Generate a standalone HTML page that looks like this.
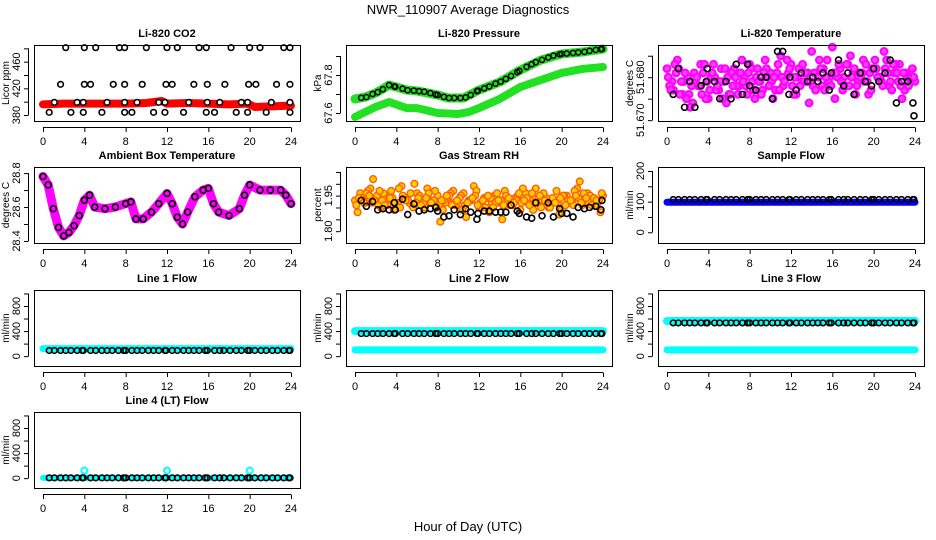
<!DOCTYPE html>
<html><head><meta charset="utf-8"><style>
html,body{margin:0;padding:0;background:#fff;}
svg{display:block;font-family:"Liberation Sans",Arial,sans-serif;}
</style></head><body>
<svg id="c" width="936" height="540" viewBox="0 0 936 540" xmlns="http://www.w3.org/2000/svg">
<text x="468" y="14" text-anchor="middle" font-size="13">NWR_110907  Average Diagnostics</text>
<text x="468" y="531" text-anchor="middle" font-size="13">Hour of Day (UTC)</text>
</svg>
<script>
// ---------- data ----------
const xTicks=[0,4,8,12,16,20,24];
const co2RedHours=[0,2,4,6,8,10,11.5,12,14,16,18,19.8,20.5,22,24];
const co2RedVals=[396,397,397,397,397,398,401,397,398,397,396,397,392,393,394];
const co2BlackHours=[2.2,4,5.1,7.4,7.9,10,12,13,15.1,15.8,18.2,20,21,23.3,23.9,1.7,4,4.6,6.8,7.9,9.6,11.9,12.5,14.6,15.9,17.6,19.9,20.6,22.6,23.9,1.1,3.3,3.9,6.2,7.9,9.1,11.2,11.8,14.1,15.9,17.1,19.2,19.8,22.1,23.9,0.6,2.7,3.9,5.7,7.9,8.6,10.7,11.8,13.6,15.8,16.6,18.7,19.8,21.6,23.9];
const co2BlackVals=[481,481,481,481,481,481,481,481,481,481,481,481,481,481,481,426,426,426,426,426,426,426,426,426,426,426,426,426,426,426,399,399,399,399,399,399,399,399,399,399,399,399,399,399,399,384,384,384,384,384,384,384,384,384,384,384,384,384,384,384];
const presHours=[0,1,2,3.3,4,5,6,8,9,10.5,12,14,16,18,20,22,24];
const presUpper=[67.674,67.684,67.705,67.747,67.737,67.721,67.716,67.695,67.679,67.679,67.721,67.763,67.826,67.879,67.911,67.921,67.937];
const presLowerHours=[0,2,3.3,5,6,8,10,11,12,14,16,18,20,22,24];
const presLower=[67.579,67.632,67.658,67.626,67.626,67.6,67.595,67.605,67.626,67.674,67.737,67.774,67.811,67.832,67.842];
const blackHours=[0.6,1.1,1.7,2.2,2.7,3.3,3.8,3.9,4.6,5.1,5.7,6.2,6.7,7.3,7.8,8,8.6,9.1,9.6,10.2,10.7,11.2,11.8,11.9,12.5,13,13.6,14.1,14.6,15.1,15.7,15.9,16.6,17.1,17.5,18.1,18.7,19.2,19.8,20,20.5,21.1,21.6,22.2,22.7,23.3,23.8,23.9];
const presBlack=[67.68,67.684,67.70,67.71,67.725,67.747,67.74,67.738,67.728,67.72,67.718,67.715,67.712,67.705,67.697,67.695,67.685,67.679,67.679,67.679,67.682,67.695,67.715,67.718,67.73,67.74,67.755,67.765,67.78,67.795,67.815,67.822,67.843,67.857,67.868,67.88,67.892,67.902,67.909,67.911,67.913,67.916,67.919,67.922,67.927,67.932,67.936,67.937];
const tempA=[51.682,51.679,51.684,51.676,51.680,51.674,51.678,51.681,51.675,51.683,51.677,51.679,51.676,51.682,51.678,51.680,51.683,51.675,51.679,51.684,51.681,51.677,51.685,51.680,51.683,51.676,51.682,51.679,51.686,51.681,51.678,51.684,51.687,51.680,51.677,51.683,51.681,51.679,51.684,51.676,51.682,51.680,51.686,51.678,51.681,51.683,51.677,51.680,51.679];
const tempB=[51.678,51.683,51.676,51.681,51.673,51.679,51.683,51.675,51.680,51.677,51.682,51.674,51.681,51.678,51.684,51.676,51.679,51.682,51.677,51.680,51.675,51.683,51.678,51.681,51.676,51.682,51.679,51.674,51.681,51.684,51.677,51.680,51.675,51.682,51.678,51.685,51.676,51.680,51.683,51.677,51.682,51.679,51.684,51.677,51.681,51.675,51.680,51.682];
const tempC=[51.680,51.677,51.682,51.679,51.676,51.681,51.678,51.683,51.677,51.680,51.679,51.682,51.676,51.680,51.681,51.678,51.682,51.680,51.676,51.682,51.679,51.681,51.680,51.684,51.678,51.680,51.683,51.681,51.678,51.680,51.682,51.679,51.681,51.683,51.680,51.678,51.682,51.681,51.679,51.681,51.684,51.680,51.682,51.679,51.683,51.678,51.681,51.680];
const tempD=[51.677,51.681,51.679,51.675,51.678,51.680,51.676,51.679,51.681,51.678,51.675,51.680,51.678,51.676,51.679,51.681,51.677,51.679,51.681,51.678,51.680,51.677,51.679,51.682,51.680,51.678,51.681,51.679,51.677,51.682,51.680,51.678,51.681,51.679,51.683,51.680,51.678,51.681,51.679,51.682,51.680,51.678,51.681,51.683,51.679,51.681,51.678,51.680];
const tempBlack=[51.676,51.682,51.673,51.679,51.673,51.678,51.679,51.682,51.679,51.675,51.679,51.675,51.683,51.676,51.683,51.678,51.677,51.680,51.680,51.675,51.686,51.686,51.676,51.680,51.677,51.681,51.679,51.680,51.679,51.681,51.677,51.681,51.684,51.678,51.681,51.676,51.681,51.679,51.678,51.682,51.679,51.681,51.684,51.674,51.679,51.679,51.674,51.671];
const ambHours=[0,0.5,1,1.5,2,2.5,3,3.5,4,4.5,5,6,7,8,8.5,9,9.7,10.5,11.2,12,12.5,13,13.5,14,14.7,15.5,16,16.5,17,18,19,19.5,20,21,22,23,23.5,24];
const ambVals=[28.78,28.73,28.59,28.48,28.43,28.45,28.49,28.55,28.64,28.67,28.60,28.59,28.60,28.62,28.63,28.53,28.53,28.57,28.62,28.68,28.62,28.54,28.50,28.57,28.66,28.70,28.71,28.62,28.57,28.55,28.59,28.67,28.73,28.70,28.70,28.70,28.67,28.62];
const rhA=[1.93,1.96,1.92,1.98,1.94,1.90,1.95,1.97,1.92,1.99,1.94,1.91,1.96,1.93,1.98,1.92,1.95,1.89,1.94,1.97,1.91,1.96,1.93,1.99,1.90,1.94,1.88,1.95,1.92,1.97,1.91,1.94,1.89,1.96,1.93,1.98,1.90,1.94,1.92,1.97,1.89,1.95,1.93,1.98,1.91,1.96,1.94,1.92,1.95];
const rhB=[1.88,1.94,1.97,2.02,1.91,1.96,1.93,1.89,1.98,1.94,1.92,2.00,1.95,1.90,1.93,1.97,1.84,1.92,1.96,1.91,1.95,1.86,1.93,1.97,1.90,1.94,1.92,1.96,1.85,1.93,1.91,1.95,1.98,1.92,1.89,1.94,1.96,1.90,1.93,1.87,1.95,1.92,1.97,2.01,1.93,1.95,1.91,1.88];
const rhC=[1.91,1.94,1.96,1.92,1.95,1.93,1.91,1.94,1.92,1.95,1.93,1.90,1.94,1.92,1.96,1.93,1.91,1.93,1.95,1.92,1.94,1.91,1.93,1.95,1.92,1.90,1.94,1.92,1.93,1.95,1.91,1.93,1.92,1.94,1.96,1.92,1.93,1.91,1.94,1.92,1.95,1.93,1.91,1.94,1.96,1.92,1.94,1.93];
const rhD=[1.94,1.92,1.95,1.93,1.97,1.91,1.94,1.92,1.90,1.93,1.96,1.92,1.91,1.94,1.92,1.90,1.93,1.95,1.91,1.93,1.89,1.92,1.94,1.91,1.93,1.95,1.90,1.93,1.91,1.94,1.92,1.96,1.93,1.91,1.92,1.95,1.93,1.90,1.92,1.94,1.91,1.93,1.95,1.92,1.94,1.91,1.93,1.96];
const rhBlack=[1.93,1.905,1.925,1.89,1.895,1.89,1.92,1.89,1.935,1.87,1.915,1.885,1.89,1.895,1.90,1.885,1.86,1.865,1.89,1.87,1.895,1.88,1.85,1.875,1.885,1.885,1.88,1.88,1.88,1.91,1.885,1.875,1.86,1.855,1.92,1.865,1.92,1.86,1.895,1.875,1.875,1.86,1.90,1.895,1.90,1.905,1.89,1.93];
const lineHours=[0,24];
const sampleBlue=[98,98];
const sampleBlack=107;
const line1Cyan=[120,120];
const line1Black=90;
const line2CyanHi=[400,400];
const line2CyanLo=[100,100];
const line2Black=360;
const line3CyanHi=[560,560];
const line3CyanLo=[100,100];
const line3Black=530;
const line4Cyan=[5,5];
const line4SpikeHours=[4,12,20];
const line4Spikes=[120,120,120];
const line4Black=5;

// ---------- drawing ----------
const svg=document.getElementById('c');
const NS='http://www.w3.org/2000/svg';
const colL=[34,346,658], rowT=[45,167,290,412], W=266, H=76;
function mk(tag,attrs,parent){const e=document.createElementNS(NS,tag);for(const k in attrs)e.setAttribute(k,attrs[k]);(parent||svg).appendChild(e);return e;}
function panel(name,col,row,ymin,ymax,ticks,labels,ylab,title){
  const L=colL[col],T=rowT[row];
  const g=mk('g',{});
  
  
  const sx=h=>L+9+h*248/24;
  const sy=v=>T+H-(v-ymin)/(ymax-ymin)*H;
  const t=mk('text',{x:L+W/2,y:T-8,'text-anchor':'middle','font-size':11,'font-weight':'bold'},g);
  t.textContent=title;
  
  
  const marks=mk('g',{},g);
  
  
  const ax=mk('g',{stroke:'#000','stroke-width':1,fill:'none'},g);
  
  
  const box=mk('rect',{x:L+.5,y:T+.5,width:W,height:H},ax);
  
  
  mk('line',{x1:sx(0),x2:sx(24),y1:T+H+6.5,y2:T+H+6.5},ax);
  xTicks.forEach(h=>{
    mk('line',{x1:sx(h)+.5,x2:sx(h)+.5,y1:T+H+6.5,y2:T+H+11},ax);
    const tl=mk('text',{x:sx(h),y:T+H+24,'text-anchor':'middle','font-size':11,fill:'#000',stroke:'none'},g);
    tl.textContent=h;
    
    
  });
  mk('line',{x1:L-5.5,x2:L-5.5,y1:sy(ticks[0]),y2:sy(ticks[ticks.length-1])},ax);
  ticks.forEach(v=>{mk('line',{x1:L-10,x2:L-5.5,y1:sy(v)+.5,y2:sy(v)+.5},ax);});
  labels.forEach(v=>{
    const y=sy(v);
    const tl=mk('text',{x:L-14,y:y,'text-anchor':'middle','font-size':11,transform:`rotate(-90 ${L-14} ${y})`},g);
    tl.textContent=v;
    
    
  });
  const yy=T+H/2;
  const yl=mk('text',{x:L-25,y:yy,'text-anchor':'middle','font-size':10,transform:`rotate(-90 ${L-25} ${yy})`},g);
  yl.textContent=ylab;
  
  
  return {sx,sy,g:marks};
}
function pts(p,hs,vs,fill,stroke,r,sw,nm){
  hs.forEach((h,i)=>{
    const c=mk('circle',{cx:p.sx(h),cy:p.sy(vs[i]),r:r,fill:fill,stroke:stroke,'stroke-width':sw},p.g);
    
    
  });
}
function line(p,hs,vs,color,w,nm){
  const l=mk('polyline',{points:hs.map((h,i)=>p.sx(h)+','+p.sy(vs[i])).join(' '),fill:'none',stroke:color,'stroke-width':w,'stroke-linejoin':'round','stroke-linecap':'round'},p.g);
  
  
}
function idx(n,off){return Array.from({length:n},(_, i)=>off+i*0.5);}

// CO2
let p=panel('co2',0,0,371,485,[380,400,420,440,460,480],[380,420,460],'Licor ppm','Li-820 CO2');
line(p,co2RedHours,co2RedVals,'#ff0000',8,'co2-red-series');
pts(p,co2BlackHours,co2BlackVals,'#fff','#000',2.8,1.6,'co2-black-point');
// Pressure
p=panel('pressure',1,0,67.558,67.958,[67.6,67.7,67.8,67.9],[67.6,67.8],'kPa','Li-820 Pressure');
line(p,presHours,presUpper,'#22e022',9,'pressure-upper-green');
line(p,presLowerHours,presLower,'#22e022',8,'pressure-lower-green');
pts(p,blackHours,presBlack,'none','#000',2.6,1.5,'pressure-black-point');
// Temperature
p=panel('temperature',2,0,51.6698,51.6875,[51.670,51.675,51.680,51.685],['51.670','51.680'],'degrees C','Li-820 Temperature');
pts(p,idx(tempA.length,0),tempA,'#ff40ff','#ff00ff',3.4,2,'temp-magenta-point');
pts(p,idx(tempB.length,0.25),tempB,'#ff40ff','#ff00ff',3.4,2,'temp-magenta-point');
pts(p,idx(tempC.length,0.125),tempC,'#ff40ff','#ff00ff',3.4,2,'temp-magenta-point');
pts(p,idx(tempD.length,0.375),tempD,'#ff40ff','#ff00ff',3.4,2,'temp-magenta-point');
pts(p,blackHours,tempBlack,'none','#000',3,1.6,'temp-black-point');
// Ambient
p=panel('ambient',0,1,28.388,28.836,[28.4,28.5,28.6,28.7,28.8],['28.4','28.6','28.8'],'degrees C','Ambient Box Temperature');
line(p,ambHours,ambVals,'#ff00ff',9,'ambient-magenta-series');
pts(p,ambHours,ambVals,'none','#000',3,1.6,'ambient-black-point');
// RH
p=panel('rh',1,1,1.75,2.071,[1.80,1.85,1.90,1.95,2.00,2.05],['1.80','1.95'],'percent','Gas Stream RH');
pts(p,idx(rhA.length,0),rhA,'#ffcc00','#ff5a00',3.4,1.3,'rh-orange-point');
pts(p,idx(rhB.length,0.25),rhB,'#ffcc00','#ff5a00',3.4,1.3,'rh-orange-point');
pts(p,idx(rhC.length,0.125),rhC,'#ffcc00','#ff5a00',3.4,1.3,'rh-orange-point');
pts(p,idx(rhD.length,0.375),rhD,'#ffcc00','#ff5a00',3.4,1.3,'rh-orange-point');
pts(p,blackHours,rhBlack,'none','#000',3,1.6,'rh-black-point');
// Sample flow
p=panel('sample-flow',2,1,-35,213,[0,50,100,150,200],[0,100,200],'ml/min','Sample Flow');
line(p,lineHours,sampleBlue,'#0000ff',7,'sample-blue-series');
pts(p,blackHours,blackHours.map(()=>sampleBlack),'none','#000',2.8,1.6,'sample-black-point');
// Flows
const fT=[0,200,400,600,800,1000], fL=[0,400,800];
p=panel('line1-flow',0,2,-157,1055,fT,fL,'ml/min','Line 1 Flow');
line(p,lineHours,line1Cyan,'#00ffff',7,'line1-cyan-series');
pts(p,blackHours,blackHours.map(()=>line1Black),'none','#000',2.8,1.6,'line1-black-point');
p=panel('line2-flow',1,2,-157,1055,fT,fL,'ml/min','Line 2 Flow');
line(p,lineHours,line2CyanHi,'#00ffff',8,'line2-cyan-high');
line(p,lineHours,line2CyanLo,'#00ffff',7,'line2-cyan-low');
pts(p,blackHours,blackHours.map(()=>line2Black),'none','#000',2.8,1.6,'line2-black-point');
p=panel('line3-flow',2,2,-157,1055,fT,fL,'ml/min','Line 3 Flow');
line(p,lineHours,line3CyanHi,'#00ffff',8,'line3-cyan-high');
line(p,lineHours,line3CyanLo,'#00ffff',7,'line3-cyan-low');
pts(p,blackHours,blackHours.map(()=>line3Black),'none','#000',2.8,1.6,'line3-black-point');
p=panel('line4-flow',0,3,-157,1055,fT,fL,'ml/min','Line 4 (LT) Flow');
line(p,lineHours,line4Cyan,'#00ffff',6,'line4-cyan-series');
pts(p,line4SpikeHours,line4Spikes,'none','#00ffff',3,2,'line4-cyan-spike');
pts(p,blackHours,blackHours.map(()=>line4Black),'none','#000',2.8,1.6,'line4-black-point');
</script>
</body></html>
